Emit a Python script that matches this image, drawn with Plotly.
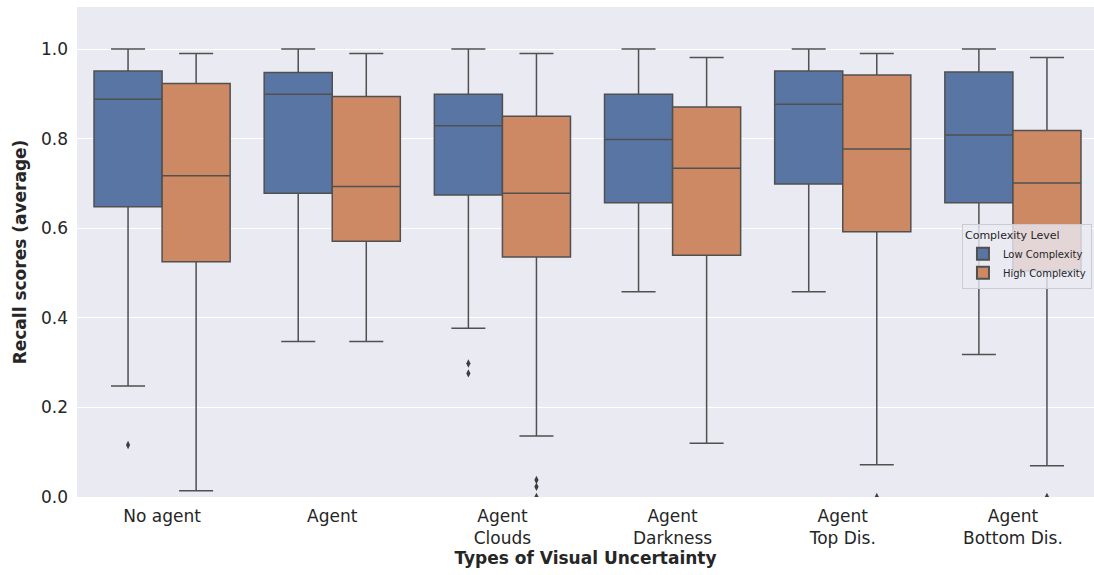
import plotly.graph_objects as go

# Categories of visual uncertainty
categories = ["No agent", "Agent", "Agent<br>Clouds", "Agent<br>Darkness",
              "Agent<br>Top Dis.", "Agent<br>Bottom Dis."]

# Box statistics for low-complexity scenes
low_lower = [0.248, 0.347, 0.377, 0.458, 0.458, 0.318]
low_q1 = [0.648, 0.678, 0.674, 0.657, 0.699, 0.657]
low_median = [0.888, 0.899, 0.829, 0.798, 0.877, 0.808]
low_q3 = [0.951, 0.948, 0.899, 0.899, 0.951, 0.949]
low_upper = [1.0, 1.0, 1.0, 1.0, 1.0, 1.0]

# Box statistics for high-complexity scenes
high_lower = [0.014, 0.347, 0.136, 0.120, 0.072, 0.070]
high_q1 = [0.525, 0.571, 0.536, 0.540, 0.592, 0.505]
high_median = [0.717, 0.693, 0.678, 0.734, 0.777, 0.701]
high_q3 = [0.923, 0.894, 0.850, 0.871, 0.942, 0.818]
high_upper = [0.990, 0.990, 0.990, 0.981, 0.990, 0.981]

# Outliers (category index, value)
low_outlier_cat = [0, 2, 2]
low_outlier_val = [0.116, 0.298, 0.276]
high_outlier_cat = [2, 2, 2, 4, 5]
high_outlier_val = [0.038, 0.023, 0.0, 0.0, 0.0]

BLUE = "#5875A4"
ORANGE = "#CC8963"
EDGE = "#505050"
TEXT = "#262626"
OFFSET = 0.2
BOX_W = 0.4

idx = list(range(len(categories)))

fig = go.Figure()

for name, color, sign, lo, q1, med, q3, up in [
    ("Low Complexity", BLUE, -1, low_lower, low_q1, low_median, low_q3, low_upper),
    ("High Complexity", ORANGE, 1, high_lower, high_q1, high_median, high_q3, high_upper),
]:
    fig.add_trace(go.Box(
        x=[i + sign * OFFSET for i in idx],
        lowerfence=lo, q1=q1, median=med, q3=q3, upperfence=up,
        width=BOX_W, whiskerwidth=0.5,
        fillcolor=color,
        line=dict(color=EDGE, width=1.5),
        boxpoints=False,
        name=name,
        hoverinfo="skip",
    ))

for cats, vals, sign in [(low_outlier_cat, low_outlier_val, -1),
                         (high_outlier_cat, high_outlier_val, 1)]:
    fig.add_trace(go.Scatter(
        x=[c + sign * OFFSET for c in cats], y=vals,
        mode="markers",
        marker=dict(symbol="diamond-tall", size=6, color="#3d3d3d"),
        showlegend=False, cliponaxis=True, hoverinfo="skip",
    ))

fig.update_layout(
    width=1094, height=575,
    margin=dict(l=77, r=0, t=7, b=78),
    paper_bgcolor="white",
    plot_bgcolor="#EAEAF2",
    font=dict(family="DejaVu Sans", color=TEXT, size=17),
    showlegend=True,
    legend=dict(
        title=dict(text="Complexity Level", font=dict(size=11, color=TEXT)),
        font=dict(size=10, color=TEXT),
        x=0.998, xanchor="right", y=0.557, yanchor="top",
        bgcolor="rgba(234,234,242,0.8)",
        bordercolor="#cccccc", borderwidth=1,
        itemsizing="constant",
        tracegroupgap=0,
    ),
)

fig.update_xaxes(
    tickmode="array", tickvals=idx, ticktext=categories,
    range=[-0.5, 5.4765],
    showgrid=False, zeroline=False, showline=False,
    ticks="", ticklabelstandoff=7, tickfont=dict(size=17, color=TEXT),
    title=dict(text="<b>Types of Visual Uncertainty</b>", font=dict(size=17, color=TEXT), standoff=3),
)

fig.update_yaxes(
    range=[0, 1.094],
    tickvals=[0, 0.2, 0.4, 0.6, 0.8, 1.0], tickformat=".1f",
    showgrid=True, gridcolor="white", gridwidth=1,
    zeroline=False, showline=False,
    ticks="", ticklabelstandoff=8, tickfont=dict(size=17, color=TEXT),
    title=dict(text="<b>Recall scores (average)</b>", font=dict(size=17, color=TEXT), standoff=10),
)

fig.write_html("out.html")
